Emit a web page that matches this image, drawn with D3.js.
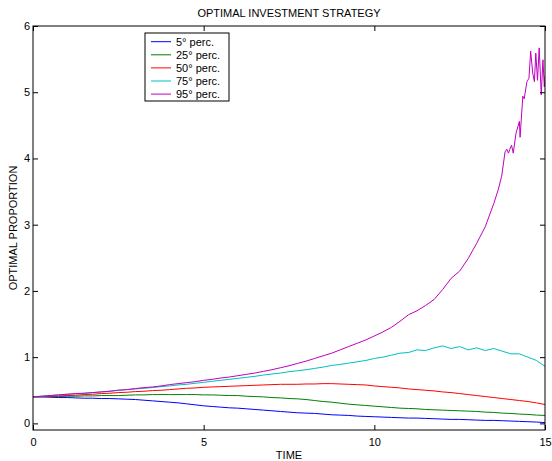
<!DOCTYPE html>
<html>
<head>
<meta charset="utf-8">
<script src="https://cdn.jsdelivr.net/npm/d3@7"></script>
<style>
html,body{margin:0;padding:0;background:#fff;}
svg{display:block;}
text{font-family:"Liberation Sans",Arial,sans-serif;fill:#000;}
</style>
</head>
<body>
<svg id="chart" width="552" height="461"></svg>
<script>
// ---- data ----
const times = d3.range(0, 15.001, 0.25);
const p5 = [0.40,0.40,0.395,0.39,0.39,0.385,0.38,0.38,0.375,0.375,0.37,0.365,0.36,0.35,0.34,0.33,0.32,0.31,0.295,0.28,0.265,0.255,0.245,0.235,0.23,0.22,0.21,0.20,0.19,0.18,0.17,0.16,0.155,0.15,0.14,0.13,0.125,0.12,0.11,0.105,0.10,0.095,0.09,0.085,0.08,0.08,0.075,0.07,0.065,0.06,0.06,0.055,0.05,0.045,0.045,0.04,0.035,0.03,0.025,0.02,0.012];
const p25 = [0.40,0.40,0.405,0.405,0.41,0.41,0.415,0.415,0.42,0.42,0.42,0.425,0.43,0.43,0.435,0.435,0.435,0.435,0.435,0.435,0.43,0.43,0.425,0.42,0.42,0.41,0.405,0.40,0.39,0.385,0.375,0.37,0.36,0.345,0.33,0.32,0.305,0.29,0.28,0.27,0.26,0.25,0.24,0.23,0.225,0.22,0.21,0.205,0.20,0.195,0.19,0.185,0.18,0.17,0.165,0.155,0.15,0.14,0.135,0.125,0.12];
const p50 = [0.40,0.405,0.41,0.415,0.42,0.425,0.435,0.44,0.45,0.455,0.465,0.47,0.48,0.485,0.495,0.50,0.51,0.52,0.53,0.535,0.545,0.55,0.555,0.56,0.565,0.57,0.575,0.58,0.585,0.59,0.59,0.59,0.595,0.595,0.60,0.60,0.595,0.59,0.585,0.58,0.565,0.555,0.545,0.535,0.52,0.51,0.50,0.49,0.475,0.465,0.45,0.435,0.42,0.405,0.39,0.375,0.36,0.345,0.33,0.31,0.285];
const p75 = [0.40,0.41,0.42,0.43,0.44,0.445,0.455,0.465,0.475,0.485,0.50,0.51,0.52,0.53,0.54,0.555,0.565,0.58,0.59,0.605,0.62,0.635,0.65,0.665,0.68,0.695,0.71,0.73,0.745,0.76,0.78,0.795,0.81,0.83,0.85,0.875,0.89,0.91,0.93,0.95,0.98,1.00,1.03,1.06,1.07,1.11,1.10,1.14,1.17,1.13,1.16,1.11,1.14,1.10,1.13,1.09,1.05,1.05,1.00,0.95,0.86];
const p95 = [0.40,0.41,0.42,0.43,0.44,0.45,0.455,0.465,0.475,0.485,0.50,0.51,0.525,0.54,0.55,0.565,0.585,0.60,0.615,0.63,0.65,0.665,0.685,0.70,0.72,0.74,0.76,0.785,0.81,0.84,0.87,0.905,0.94,0.98,1.02,1.06,1.11,1.16,1.21,1.26,1.32,1.38,1.45,1.54,1.64,1.70,1.78,1.87,2.02,2.19,2.30,2.49,2.72,2.97,3.32];
const p95TailTime  = [13.63,13.73,13.83,13.88,13.93,13.97,14.02,14.07,14.15,14.25,14.27,14.35,14.39,14.47,14.53,14.58,14.64,14.69,14.73,14.78,14.83,14.89,14.94,14.98,15.0];
const p95TailValue = [3.53,3.73,4.10,4.14,4.08,4.14,4.20,4.08,4.38,4.56,4.32,4.94,4.90,5.16,5.21,5.62,5.29,5.16,5.59,5.18,5.67,4.96,5.49,5.08,5.25];
const seriesNames = ["5° perc.","25° perc.","50° perc.","75° perc.","95° perc."];
const seriesColors = ["#0000ff","#008000","#ff0000","#00bfbf","#bf00bf"];
const xTicks = [0,5,10,15];
const yTicks = [0,1,2,3,4,5,6];

// ---- build ----
const svg = d3.select("#chart");
const L = 33, R = 545, T = 26, B = 430;
const x = d3.scaleLinear().domain([0,15]).range([L,R]);
const y = d3.scaleLinear().domain([-0.1,6]).range([B,T]);

const toPts = vals => vals.map((v,i)=>[times[i], v]);
const p95Pts = toPts(p95).concat(p95TailTime.map((t,i)=>[t, p95TailValue[i]]));
const data = [toPts(p5), toPts(p25), toPts(p50), toPts(p75), p95Pts];

const clipId = "plotclip";
svg.append("clipPath").attr("id",clipId).append("rect")
  .attr("x",L).attr("y",T).attr("width",R-L).attr("height",B-T);

const line = d3.line().x(d=>x(d[0])).y(d=>y(d[1]));
svg.append("g").attr("clip-path","url(#"+clipId+")")
  .selectAll("path").data(data).join("path")
  .attr("d", line).attr("fill","none")
  .attr("stroke",(d,i)=>seriesColors[i]).attr("stroke-width",1);

// axes
const fs = "11px";
const gB = svg.append("g").attr("transform",`translate(0,${B})`)
  .call(d3.axisBottom(x).tickValues(xTicks).tickSize(-5).tickPadding(8).tickFormat(d3.format("d")));
const gT = svg.append("g").attr("transform",`translate(0,${T})`)
  .call(d3.axisTop(x).tickValues(xTicks).tickSize(-5).tickFormat(""));
const gL = svg.append("g").attr("transform",`translate(${L},0)`)
  .call(d3.axisLeft(y).tickValues(yTicks).tickSize(-5).tickPadding(3).tickFormat(d3.format("d")));
const gR = svg.append("g").attr("transform",`translate(${R},0)`)
  .call(d3.axisRight(y).tickValues(yTicks).tickSize(-5).tickFormat(""));
[gB,gT,gL,gR].forEach(g=>{
  g.select(".domain").remove();
  g.selectAll("line").attr("stroke","#000");
  g.selectAll("text").attr("font-size",fs).attr("font-family","Liberation Sans, Arial, sans-serif").attr("fill","#000");
});
svg.append("rect").attr("x",L).attr("y",T).attr("width",R-L).attr("height",B-T)
  .attr("fill","none").attr("stroke","#000").attr("stroke-width",1);

// titles
svg.append("text").attr("x",(L+R)/2).attr("y",17).attr("text-anchor","middle")
  .attr("font-size","11px").text("OPTIMAL INVESTMENT STRATEGY");
svg.append("text").attr("x",(L+R)/2).attr("y",459).attr("text-anchor","middle")
  .attr("font-size","11px").text("TIME");
svg.append("text").attr("transform",`translate(17,${(T+B)/2}) rotate(-90)`)
  .attr("text-anchor","middle").attr("font-size","11px").text("OPTIMAL PROPORTION");

// legend
const lg = svg.append("g");
lg.append("rect").attr("x",145).attr("y",33).attr("width",84).attr("height",68)
  .attr("fill","#fff").attr("stroke","#000").attr("stroke-width",1);
seriesNames.forEach((n,i)=>{
  const cy = 41.7 + i*13.1;
  lg.append("line").attr("x1",151).attr("x2",171).attr("y1",cy).attr("y2",cy)
    .attr("stroke",seriesColors[i]).attr("stroke-width",1);
  lg.append("text").attr("x",176).attr("y",cy+4).attr("font-size","11px").text(n);
});
</script>
</body>
</html>
